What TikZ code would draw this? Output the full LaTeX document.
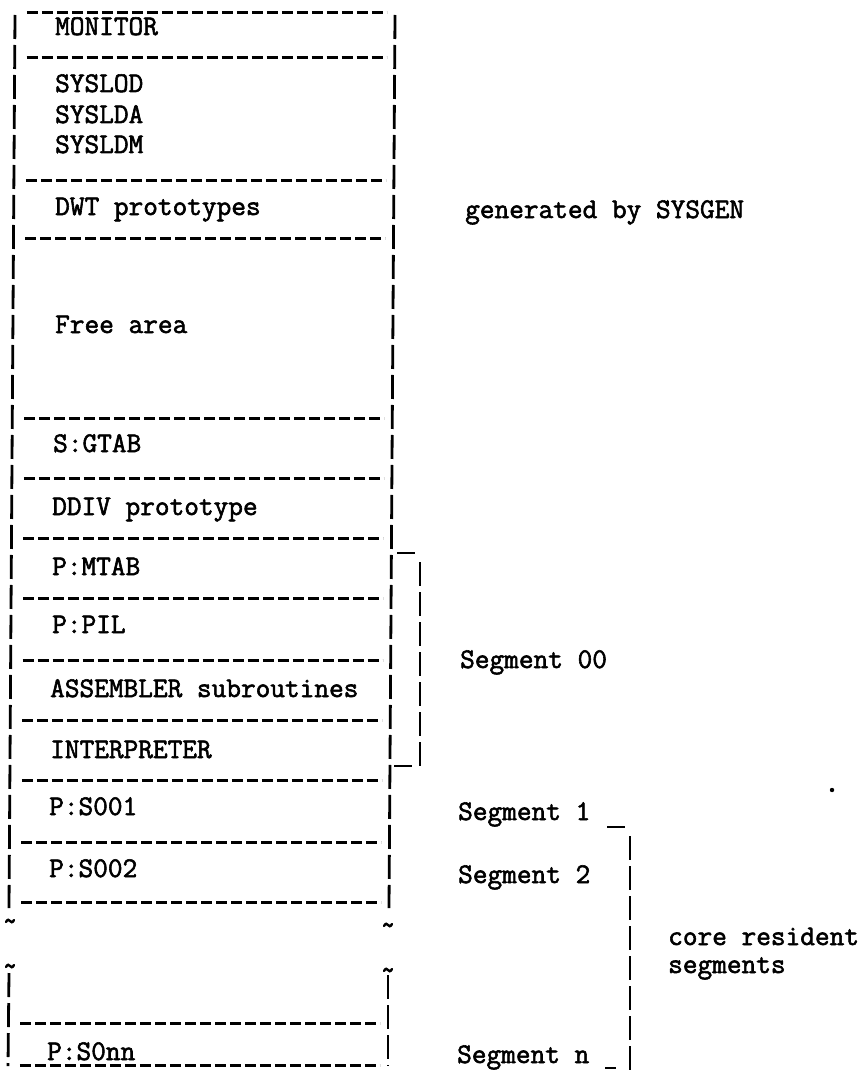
\documentclass[tikz,border=0pt]{standalone}
\usepackage{fontspec}
\setmonofont[FakeBold=2]{Latin Modern Mono}
\begin{document}
\begin{tikzpicture}[x=1pt,y=-1pt,
  hline/.style={line width=3pt,dash pattern=on 11pt off 4pt},
  vline/.style={line width=2.8pt,dash pattern=on 24pt off 6pt},
  brline/.style={line width=2.6pt},
  tildeline/.style={line width=2.4pt,line cap=round},
  txt/.style={anchor=base west,inner sep=0pt,font=\ttfamily\fontsize{28.5}{30}\selectfont}]
\useasboundingbox (0,0) rectangle (867,1070);
% box verticals (slightly skewed, as in the scan)
\coordinate (LT) at (15,15);  \coordinate (LB) at (9,908);
\coordinate (RT) at (395,15); \coordinate (RB) at (389,908);
\coordinate (LT2) at (9,973); \coordinate (LB2) at (8,1066);
\coordinate (RT2) at (388,975); \coordinate (RB2) at (388,1066);
\draw[vline] (LT) -- (LB);
\draw[vline] (RT) -- (RB);
\draw[vline] (LT2) -- (LB2);
\draw[vline] (RT2) -- (RB2);
% break marks
\foreach \x/\y in {10/921,388/925,10/966,388/970}{
  \draw[tildeline] (\x-4,\y+1) .. controls (\x-2.5,\y-2) and (\x-1,\y-1.5) .. (\x,\y)
     .. controls (\x+1,\y+1.5) and (\x+2.5,\y+2) .. (\x+4,\y-1);
}
% horizontal separators
\foreach \y in {13,58,180,238,418,478,538,598,660,720,780,842,902,1023,1065}{
  \pgfmathsetmacro{\xa}{27-0.0066*\y}
  \pgfmathsetmacro{\xb}{387-0.0066*\y}
  \draw[hline] (\xa,\y) -- (\xb,\y);
}
% box texts
\node[txt] (mon) at (55,35) {MONITOR};
\node[txt] (sl1) at (55,92) {SYSLOD};
\node[txt] (sl2) at (55,123) {SYSLDA};
\node[txt] (sl3) at (55,153) {SYSLDM};
\node[txt] (dwt) at (55,215) {DWT prototypes};
\node[txt] (free) at (55,333) {Free area};
\node[txt] (gtab) at (53,452) {S:GTAB};
\node[txt] (ddiv) at (52,515) {DDIV prototype};
\node[txt] (mtab) at (52,575) {P:MTAB};
\node[txt] (pil) at (52,633) {P:PIL};
\node[txt] (asm) at (50,697) {ASSEMBLER subroutines};
\node[txt] (intp) at (50,758) {INTERPRETER};
\node[txt] (s1) at (49,815) {P:S001};
\node[txt] (s2) at (49,877) {P:S002};
\node[txt] (sn) at (47,1060) {P:S0nn};
% right-hand labels
\node[txt] (gen) at (465,218) {generated by SYSGEN};
\node[txt] (seg00) at (460,668) {Segment 00};
\node[txt] (seg1) at (458,820) {Segment 1};
\node[txt] (seg2) at (458,883) {Segment 2};
\node[txt] (core) at (668,945) {core resident};
\node[txt] (segs) at (668,973) {segments};
\node[txt] (segn) at (457,1063) {Segment n};
% bracket for segment 00
\coordinate (b0a) at (397,553); \coordinate (b0b) at (415,553);
\coordinate (b0c) at (420,562); \coordinate (b0d) at (420,766);
\coordinate (b0e) at (394,766); \coordinate (b0f) at (412,766);
\draw[brline] (b0a) -- (b0b);
\draw[vline] (b0c) -- (b0d);
\draw[brline] (b0e) -- (b0f);
% bracket for core resident segments
\coordinate (b1a) at (607,827); \coordinate (b1b) at (625,827);
\coordinate (b1c) at (630,836); \coordinate (b1d) at (630,1070);
\coordinate (b1e) at (605,1068); \coordinate (b1f) at (616,1068);
\draw[brline] (b1a) -- (b1b);
\draw[vline] (b1c) -- (b1d);
\draw[brline] (b1e) -- (b1f);
% stray dot
\fill (832,790) circle (2.2pt);
\end{tikzpicture}
\end{document}
